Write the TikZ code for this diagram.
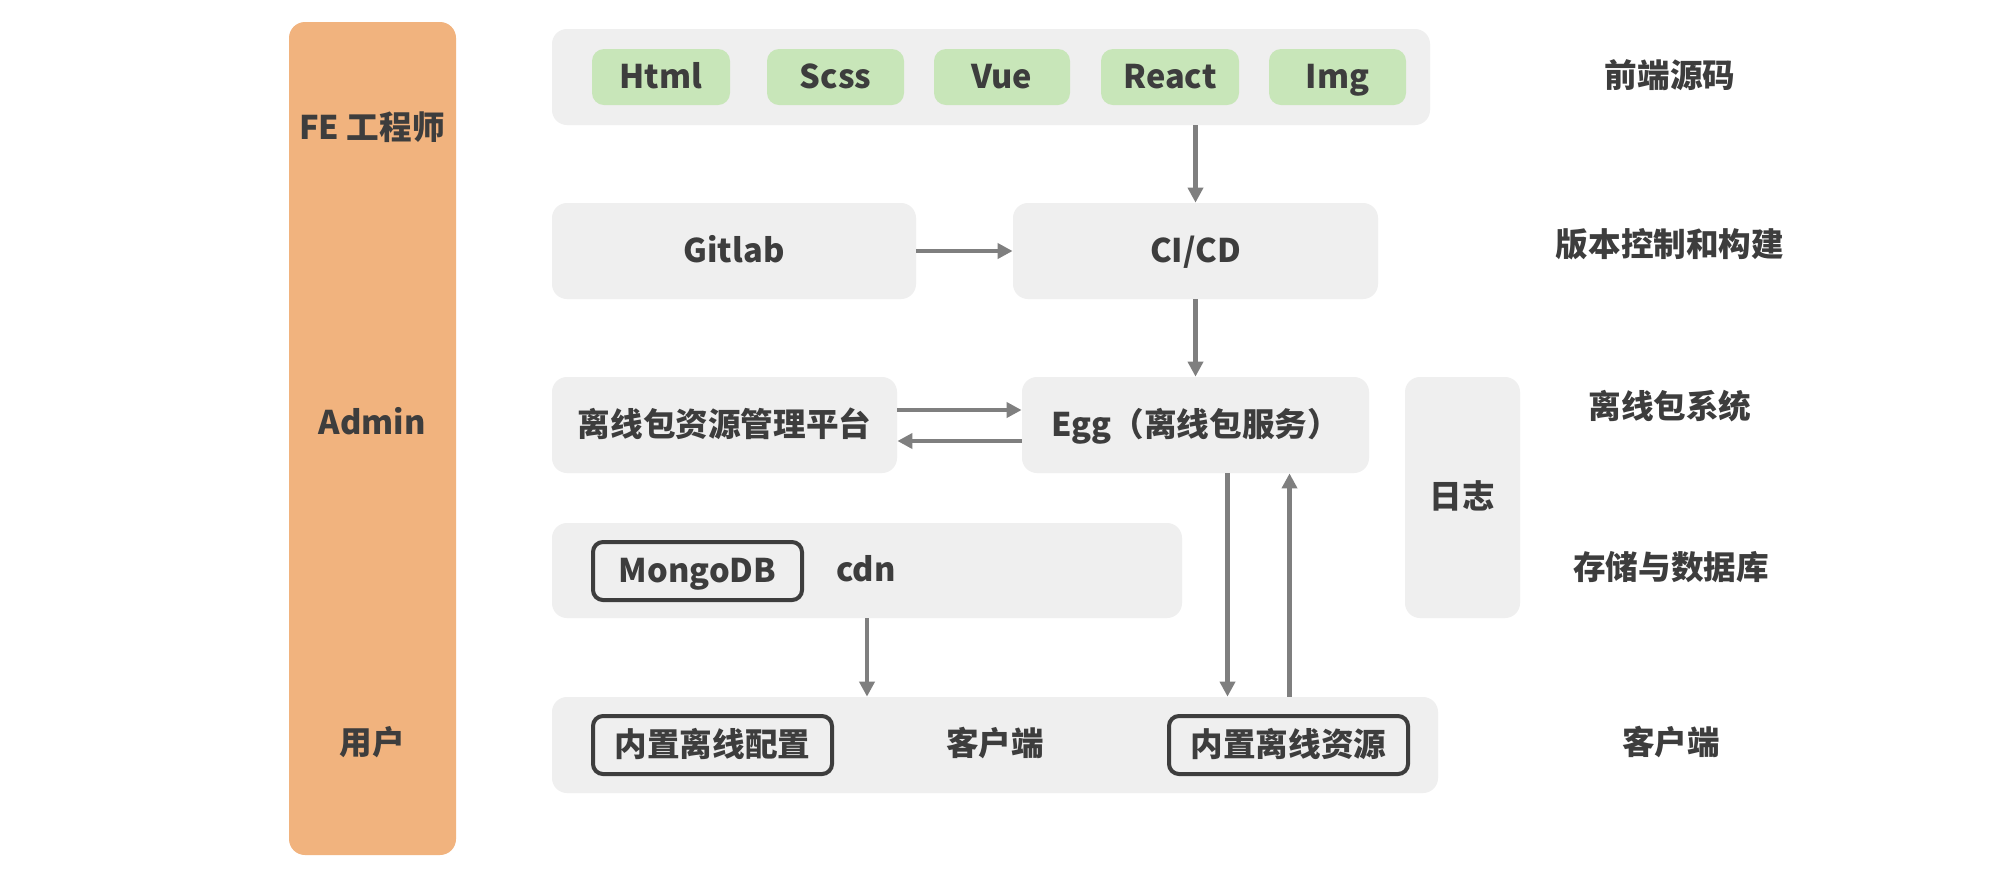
\documentclass[tikz,border=0pt]{standalone}
\usepackage{fontspec}
\setmainfont{Noto Sans CJK SC}
\usetikzlibrary{arrows.meta,calc}
\definecolor{txt}{HTML}{3D3D3D}
\definecolor{boxgray}{HTML}{EFEFEF}
\definecolor{greenbox}{HTML}{C8E6B9}
\definecolor{orangebar}{HTML}{F1B37E}
\definecolor{arrowgray}{HTML}{7F7F7F}
\tikzset{
  every node/.style={font=\fontsize{16.3pt}{19pt}\selectfont\bfseries, text=txt, inner sep=0pt, text height=14pt, text depth=3pt},
  graybox/.style={fill=boxgray, rounded corners=7.5pt},
  greenchip/.style={fill=greenbox, rounded corners=6pt, minimum height=28pt},
  outlinebox/.style={draw=txt, line width=2pt, rounded corners=5pt, minimum width=119.5pt, minimum height=29pt},
  rolebar/.style={fill=orangebar, rounded corners=8pt},
  lbl/.style={},
  arr/.style={draw=arrowgray, line width=2.4pt, -{Triangle[length=7.5pt,width=7.5pt]}}
}
\begin{document}
\begin{tikzpicture}[x=0.5pt,y=-0.5pt]
\useasboundingbox (0,0) rectangle (2000,880);
\fill[white] (0,0) rectangle (2000,880);

% role bar
\node[rolebar, minimum width=83.5pt, minimum height=416.5pt] (bar) at (372.5,438.5) {};
\node (fe) at (372,128) {FE 工程师};
\node (admin) at (372,423) {Admin};
\node (user) at (372,743) {用户};

% top: sources
\node[graybox, minimum width=439pt, minimum height=48pt] (top) at (991,77) {};
\node[greenchip, minimum width=69pt] (html) at (661,77) {Html};
\node[greenchip, minimum width=68.5pt] (scss) at (835.5,77) {Scss};
\node[greenchip, minimum width=68pt] (vue) at (1002,77) {Vue};
\node[greenchip, minimum width=69pt] (react) at (1170,77) {React};
\node[greenchip, minimum width=68.5pt] (img) at (1337.5,77) {Img};

% row 2
\node[graybox, minimum width=182pt, minimum height=48pt] (gitlab) at (734,251) {Gitlab};
\node[graybox, minimum width=182.5pt, minimum height=48pt] (cicd) at (1195.5,251) {CI/CD};

% row 3
\node[graybox, minimum width=172.5pt, minimum height=48pt] (mgmt) at (724.5,425) {离线包资源管理平台};
\node[graybox, minimum width=173.5pt, minimum height=48pt] (egg) at (1195.5,425) {Egg（离线包服务）};
\node[graybox, minimum width=57.5pt, minimum height=120.5pt] (log) at (1462.5,497.5) {日志};

% row 4
\node[graybox, minimum width=315pt, minimum height=47.5pt] (store) at (867,570.5) {};
\node[outlinebox, minimum width=104.5pt] (mongo) at (697.5,571) {MongoDB};
\node (cdn) at (866,570) {cdn};

% row 5
\node[graybox, minimum width=443pt, minimum height=48pt] (client) at (995,745) {};
\node[outlinebox] (cfg) at (712.5,745) {内置离线配置};
\node (clienttxt) at (995,744) {客户端};
\node[outlinebox] (res) at (1288.5,745) {内置离线资源};

% right labels
\node[lbl] (l1) at (1670,76) {前端源码};
\node[lbl] (l2) at (1670,245) {版本控制和构建};
\node[lbl] (l3) at (1670,407) {离线包系统};
\node[lbl] (l4) at (1671,568) {存储与数据库};
\node[lbl] (l5) at (1671,743) {客户端};

% arrows
\draw[arr] (top.south -| cicd.north) -- (cicd.north);
\draw[arr] (gitlab.east) -- (cicd.west);
\draw[arr] (cicd.south) -- (egg.north);
\draw[arr] ([yshift=7.5pt]mgmt.east) -- ([yshift=7.5pt]egg.west);
\draw[arr] ([yshift=-8pt]egg.west) -- ([yshift=-8pt]mgmt.east);
\draw[arr] ([xshift=16pt]egg.south) -- ([xshift=16pt]egg.south |- client.north);
\draw[arr] ([xshift=47pt]egg.south |- client.north) -- ([xshift=47pt]egg.south);
\draw[arr] (store.south) -- (store.south |- client.north);
\end{tikzpicture}
\end{document}
